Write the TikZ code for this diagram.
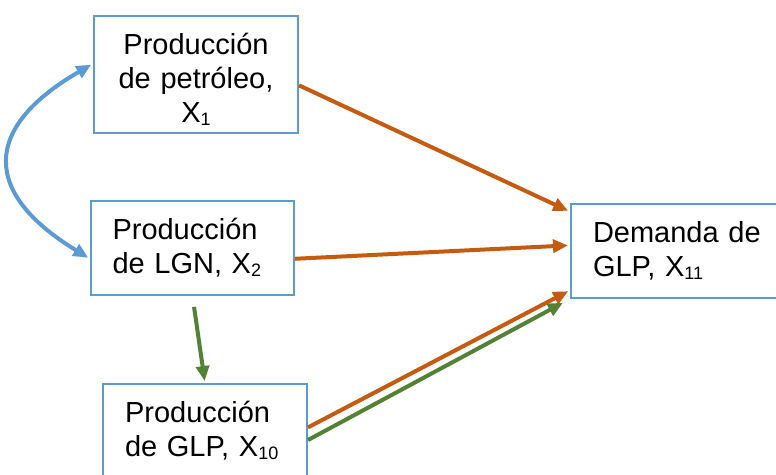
\documentclass[tikz,border=0pt]{standalone}
\usepackage{fontspec}
\setmainfont{Liberation Sans}
\usepackage{color}
\usepackage{tikz}
\usetikzlibrary{arrows.meta}

\definecolor{boxblue}{RGB}{91,155,213}
\definecolor{edgeorange}{RGB}{197,90,17}
\definecolor{edgegreen}{RGB}{84,130,53}
\newcommand{\subidx}[1]{\raisebox{-3pt}{\fontsize{18}{18}\selectfont #1}}

\begin{document}
\begin{tikzpicture}
[x=1pt,y=-1pt,>={Triangle[length=15pt,width=13pt]},
  var node/.style={draw=boxblue,line width=2pt,inner sep=0pt,font=\fontsize{29}{34}\selectfont},
  orange edge/.style={->,color=edgeorange,line width=4pt,shorten >=2pt},
  green edge/.style={->,color=edgegreen,line width=4pt,shorten >=2pt}]
  \useasboundingbox (0,0) rectangle (776,474);

  \node[var node,minimum width=204pt,minimum height=117pt,text width=160pt,align=center] (petroleo) at 	(196,74.5) {\rule{0pt}{31pt}Producción\\de petróleo,\\X\subidx{1}};
  \node[var node,minimum width=203pt,minimum height=94pt,text width=160pt,align=left] (lgn) at 		(192.5,248) {Producción\\de LGN, X\subidx{2}};
  \node[var node,minimum width=204pt,minimum height=94pt,text width=160pt,align=left] (glpprod) at 	(205,431) {Producción\\de GLP, X\subidx{10}};
  \node[var node,minimum width=214pt,minimum height=94pt,text width=170pt,align=left] (demanda) at 	(678,251) {Demanda de\\GLP, X\subidx{11}};

%   correlacion
  \draw[<->,color=boxblue,line width=4pt,shorten >=2pt,shorten <=2pt] (petroleo.174) .. controls (-18,128) and (-18,193) .. (lgn.186);

  \foreach \from/\to in {petroleo.-6/demanda.160,
      lgn.-6/demanda.177,
      glpprod.2/demanda.200}
     \draw[orange edge] (\from) -- (\to);

  \draw[green edge,shorten >=8pt] (glpprod.-5) -- (demanda.south west);
  \draw[green edge,shorten <=11pt] (lgn.south) -- (glpprod.north);

\end{tikzpicture}
\end{document}
